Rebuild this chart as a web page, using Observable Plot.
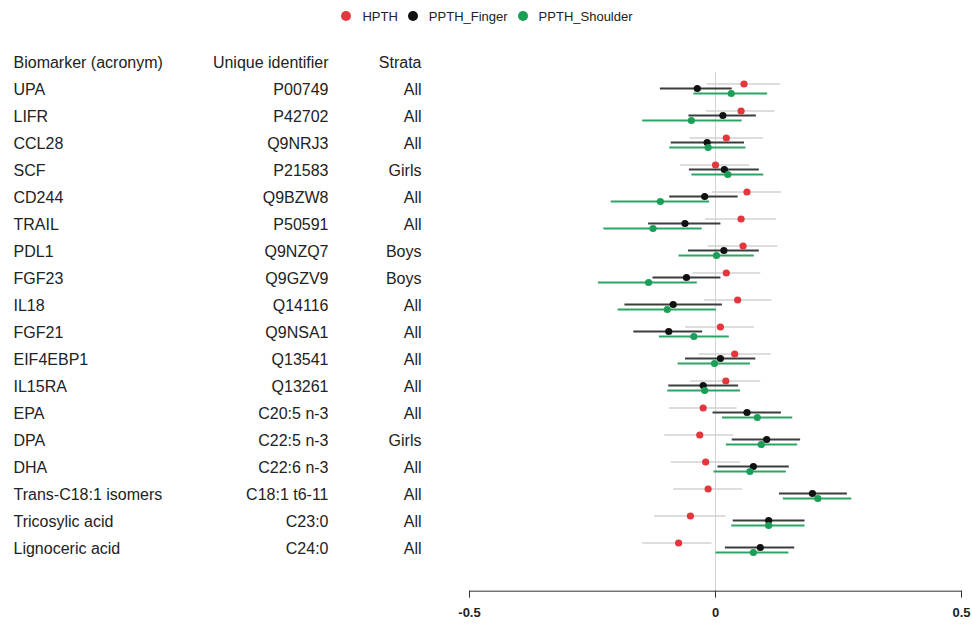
<!DOCTYPE html>
<html>
<head>
<meta charset="utf-8">
<script src="https://cdn.jsdelivr.net/npm/d3@7"></script>
<script src="https://cdn.jsdelivr.net/npm/@observablehq/plot@0.6"></script>
<style>
  body { margin: 0; background: #fff; font-family: "Liberation Sans", Arial, sans-serif; }
  #legend { height: 32px; display: flex; justify-content: center; align-items: center; font-size: 13px; color: #222; padding-left: 2px; box-sizing: border-box; }
  #legend .item { display: flex; align-items: center; margin: 0 5px; }
  #legend .dot { width: 10px; height: 10px; border-radius: 50%; margin-right: 11px; }
</style>
</head>
<body>
<div id="legend"></div>
<div id="chart"></div>
<script>
const biomarkers = ["UPA","LIFR","CCL28","SCF","CD244","TRAIL","PDL1","FGF23","IL18","FGF21","EIF4EBP1","IL15RA","EPA","DPA","DHA","Trans-C18:1 isomers","Tricosylic acid","Lignoceric acid"];
const identifiers = ["P00749","P42702","Q9NRJ3","P21583","Q9BZW8","P50591","Q9NZQ7","Q9GZV9","Q14116","Q9NSA1","Q13541","Q13261","C20:5 n-3","C22:5 n-3","C22:6 n-3","C18:1 t6-11","C23:0","C24:0"];
const strata = ["All","All","All","Girls","All","All","Boys","Boys","All","All","All","All","All","Girls","All","All","All","All"];
const headers = ["Biomarker (acronym)", "Unique identifier", "Strata"];

const seriesNames = ["HPTH", "PPTH_Finger", "PPTH_Shoulder"];

const hpthEst = [0.058,0.052,0.022,0.000,0.064,0.052,0.056,0.022,0.045,0.010,0.039,0.021,-0.025,-0.032,-0.020,-0.015,-0.051,-0.075];
const hpthLo  = [-0.017,-0.018,-0.052,-0.071,-0.007,-0.020,-0.015,-0.046,-0.022,-0.061,-0.033,-0.051,-0.094,-0.103,-0.090,-0.085,-0.124,-0.148];
const hpthHi  = [0.132,0.121,0.098,0.069,0.134,0.124,0.127,0.092,0.115,0.079,0.113,0.092,0.044,0.037,0.051,0.055,0.021,-0.007];

const fingerEst = [-0.037,0.015,-0.017,0.018,-0.022,-0.062,0.017,-0.059,-0.086,-0.095,0.010,-0.025,0.064,0.104,0.077,0.197,0.108,0.091];
const fingerLo  = [-0.112,-0.054,-0.090,-0.053,-0.093,-0.136,-0.055,-0.127,-0.184,-0.166,-0.061,-0.095,-0.005,0.034,0.005,0.130,0.036,0.020];
const fingerHi  = [0.034,0.083,0.059,0.089,0.046,0.011,0.089,0.011,0.014,-0.026,0.082,0.047,0.134,0.173,0.150,0.268,0.182,0.161];

const shoulderEst = [0.032,-0.049,-0.015,0.025,-0.112,-0.127,0.002,-0.136,-0.098,-0.044,-0.002,-0.022,0.085,0.093,0.070,0.208,0.108,0.077];
const shoulderLo  = [-0.044,-0.148,-0.093,-0.048,-0.212,-0.227,-0.074,-0.238,-0.198,-0.114,-0.076,-0.097,0.014,0.022,-0.003,0.138,0.033,0.001];
const shoulderHi  = [0.106,0.054,0.062,0.098,-0.012,-0.027,0.079,-0.037,0.002,0.028,0.071,0.051,0.157,0.167,0.144,0.277,0.182,0.149];

const xTicks = [-0.5, 0, 0.5];

const colors = {HPTH: "#e3373d", PPTH_Finger: "#111111", PPTH_Shoulder: "#1a9f58"};
const ciColors = {HPTH: "#d2d2d2", PPTH_Finger: "#3c3c3c", PPTH_Shoulder: "#2aa565"};
const offsets = {HPTH: -4.5, PPTH_Finger: 0, PPTH_Shoulder: 5};

const rows = biomarkers.map((b, i) => ({biomarker: b, id: identifiers[i], strata: strata[i]}));
function series(name, est, lo, hi) {
  return biomarkers.map((b, i) => ({biomarker: b, series: name, est: est[i], lo: lo[i], hi: hi[i]}));
}
const data = {
  HPTH: series("HPTH", hpthEst, hpthLo, hpthHi),
  PPTH_Finger: series("PPTH_Finger", fingerEst, fingerLo, fingerHi),
  PPTH_Shoulder: series("PPTH_Shoulder", shoulderEst, shoulderLo, shoulderHi)
};

// Legend
const legend = document.getElementById("legend");
for (const s of seriesNames) {
  const item = document.createElement("div");
  item.className = "item";
  const d = document.createElement("span");
  d.className = "dot";
  d.style.background = colors[s];
  const t = document.createElement("span");
  t.textContent = s;
  item.append(d, t);
  legend.append(item);
}

const HEADER = "__header__";
const marks = [
  Plot.ruleX([0], {stroke: "#d4d4d4", strokeWidth: 1, insetTop: 12.7}),
  Plot.frame({anchor: "bottom", stroke: "#333", strokeWidth: 1})
];
for (const s of seriesNames) {
  marks.push(Plot.ruleY(data[s], {y: "biomarker", x1: "lo", x2: "hi", stroke: ciColors[s], strokeWidth: s === "HPTH" ? 1.5 : 1.8, dy: offsets[s]}));
}
for (const s of seriesNames) {
  marks.push(Plot.dot(data[s], {y: "biomarker", x: "est", r: 3.6, fill: colors[s], stroke: "none", dy: offsets[s]}));
}
const textOpts = {frameAnchor: "left", fill: "#222", fontSize: 16, dy: 1.5};
marks.push(
  Plot.text(rows, {...textOpts, y: "biomarker", text: "biomarker", textAnchor: "start", dx: -456}),
  Plot.text(rows, {...textOpts, y: "biomarker", text: "id", textAnchor: "end", dx: -141}),
  Plot.text(rows, {...textOpts, y: "biomarker", text: "strata", textAnchor: "end", dx: -48}),
  Plot.text([headers[0]], {...textOpts, y: () => HEADER, text: d => d, textAnchor: "start", dx: -456}),
  Plot.text([headers[1]], {...textOpts, y: () => HEADER, text: d => d, textAnchor: "end", dx: -141}),
  Plot.text([headers[2]], {...textOpts, y: () => HEADER, text: d => d, textAnchor: "end", dx: -48}),
  Plot.axisX({ticks: xTicks, tickSize: 7, tickPadding: 10, tickFormat: d => String(d), fontSize: 13, fontWeight: "bold", stroke: "#333", fill: "#222"})
);

const chart = Plot.plot({
  width: 972,
  height: 592,
  marginLeft: 469,
  marginRight: 11,
  marginTop: 27.3,
  marginBottom: 33.3,
  style: {fontFamily: "'Liberation Sans', Arial, sans-serif", background: "#fff", color: "#222"},
  x: {domain: [-0.5, 0.5], label: null},
  y: {type: "point", domain: [HEADER, ...biomarkers], padding: 0, insetBottom: 41.2, axis: null},
  marks
});
document.getElementById("chart").append(chart);
</script>
</body>
</html>
